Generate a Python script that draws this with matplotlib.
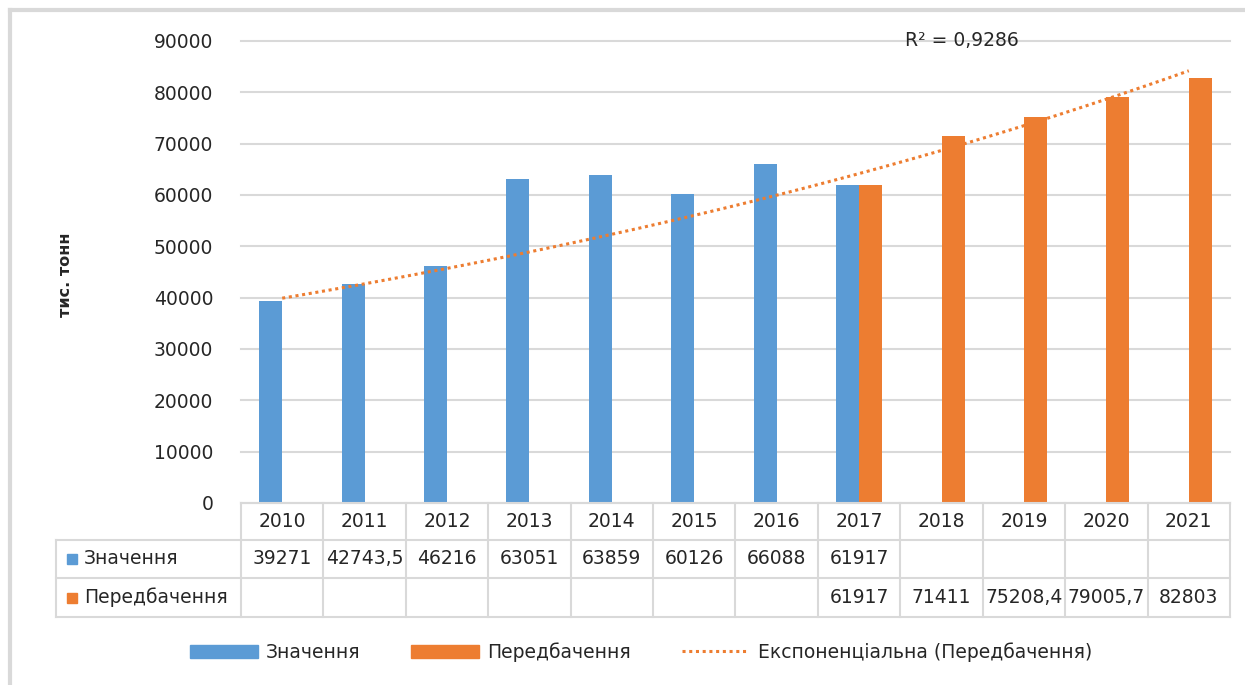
import numpy as np
import matplotlib.pyplot as plt
from matplotlib.lines import Line2D
from matplotlib.patches import Patch, Rectangle

plt.rcParams['font.family'] = ['DejaVu Sans']

years = ['2010', '2011', '2012', '2013', '2014', '2015', '2016', '2017', '2018', '2019', '2020', '2021']
actual = [39271, 42743.5, 46216, 63051, 63859, 60126, 66088, 61917, None, None, None, None]
forecast = [None, None, None, None, None, None, None, 61917, 71411, 75208.4, 79005.7, 82803]
trend_start = 39900   # trendline value at 2010
trend_end = 84200     # trendline value at 2021
r2_text = 'R² = 0,9286'

blue = '#5B9BD5'
orange = '#ED7D31'
grid_c = '#D9D9D9'
txt_c = '#262626'

W, H = 1245, 685
fig = plt.figure(figsize=(W / 100, H / 100), dpi=100)

def fx(x):
    return x / W

def fy(y):
    return 1 - y / H

# plot area in pixels
left, right, top, bottom = 241, 1230, 41, 503
ax = fig.add_axes([fx(left), fy(bottom), fx(right) - fx(left), fy(top) - fy(bottom)])

n = len(years)
x = np.arange(n)
w = 0.28
act = np.array([np.nan if v is None else v for v in actual])
fc = np.array([np.nan if v is None else v for v in forecast])
ax.bar(x - w / 2, np.nan_to_num(act), w, color=blue, zorder=3)
ax.bar(x + w / 2, np.nan_to_num(fc), w, color=orange, zorder=3)

# exponential trendline
tx = np.linspace(0, n - 1, 100)
ty = trend_start * (trend_end / trend_start) ** (tx / (n - 1))
ax.plot(tx, ty, color=orange, lw=2.2, ls=(0, (1, 1.2)), zorder=4)

ax.set_xlim(-0.5, n - 0.5)
ax.set_ylim(0, 90000)
ax.set_yticks(np.arange(0, 90001, 10000))
ax.set_yticklabels([str(v) for v in range(0, 90001, 10000)])
ax.set_xticks([])
ax.tick_params(axis='y', length=0, pad=20, labelsize=13.5, labelcolor=txt_c)
ax.grid(axis='y', color=grid_c, lw=1.5, zorder=0)
for gl in ax.get_ygridlines():
    gl.set_clip_on(False)
for s in ax.spines.values():
    s.set_visible(False)

fig.text(fx(65), fy(275), 'тис. тонн', rotation=90, ha='center', va='center',
         fontsize=11.5, fontweight='bold', color=txt_c)
fig.text(fx(905), fy(40), r2_text, ha='left', va='center', fontsize=13.5, color=txt_c)

# data table under the axis
col_w = (right - left) / n
rows = [503, 540, 578, 617]
lab_left = 56
lc = dict(color=grid_c, lw=1.5)
fig.add_artist(Line2D([fx(left), fx(right)], [fy(rows[0])] * 2, **lc))
for r in rows[1:]:
    fig.add_artist(Line2D([fx(lab_left), fx(right)], [fy(r)] * 2, **lc))
fig.add_artist(Line2D([fx(lab_left)] * 2, [fy(rows[1]), fy(rows[3])], **lc))
for i in range(n + 1):
    xc = left + i * col_w
    fig.add_artist(Line2D([fx(xc)] * 2, [fy(rows[0]), fy(rows[3])], **lc))

def fmt(v):
    return '' if v is None else f'{v:g}'.replace('.', ',')

for i in range(n):
    xc = left + (i + 0.5) * col_w
    fig.text(fx(xc), fy((rows[0] + rows[1]) / 2), years[i], ha='center', va='center',
             fontsize=13.5, color=txt_c)
    fig.text(fx(xc), fy((rows[1] + rows[2]) / 2), fmt(actual[i]), ha='center', va='center',
             fontsize=13.5, color=txt_c)
    fig.text(fx(xc), fy((rows[2] + rows[3]) / 2), fmt(forecast[i]), ha='center', va='center',
             fontsize=13.5, color=txt_c)

for k, (name, c) in enumerate([('Значення', blue), ('Передбачення', orange)]):
    yc = (rows[k + 1] + rows[k + 2]) / 2
    fig.add_artist(Rectangle((fx(67), fy(yc + 5)), fx(10), 10 / H, color=c,
                             transform=fig.transFigure))
    fig.text(fx(84), fy(yc), name, ha='left', va='center', fontsize=13.5, color=txt_c)

# legend
handles = [Patch(color=blue), Patch(color=orange),
           Line2D([], [], color=orange, lw=2.2, ls=(0, (1, 1.2)))]
labels = ['Значення', 'Передбачення', 'Експоненціальна (Передбачення)']
fig.legend(handles, labels, loc='center', bbox_to_anchor=(fx(641), fy(652)), ncol=3,
           frameon=False, fontsize=13.5, handlelength=3.6, handletextpad=0.45,
           columnspacing=2.7, labelcolor=txt_c)

# chart-area frame
fig.add_artist(Line2D([fx(10), fx(10)], [fy(10), 0], color=grid_c, lw=3))
fig.add_artist(Line2D([fx(10), 1], [fy(10), fy(10)], color=grid_c, lw=3))

fig.savefig('out.png', dpi=100)
